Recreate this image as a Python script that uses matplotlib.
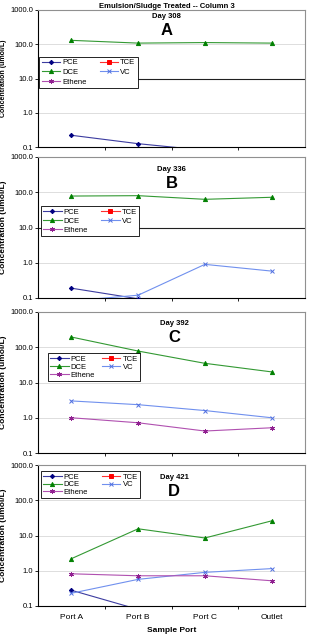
import matplotlib
matplotlib.use("Agg")
import matplotlib.pyplot as plt
import numpy as np

plt.rcParams['font.family'] = ['Liberation Sans', 'DejaVu Sans']

ports = ['Port A', 'Port B', 'Port C', 'Outlet']
nan = np.nan

# concentrations (umol/L) per day, order: PCE, TCE, DCE, VC, Ethene
days = ['Day 308', 'Day 336', 'Day 392', 'Day 421']
letters = ['A', 'B', 'C', 'D']

pce = [[0.22, 0.125, 0.08, nan],
       [0.19, 0.095, nan, nan],
       [nan, nan, nan, nan],
       [0.28, 0.08, nan, nan]]
tce = [[nan] * 4, [nan] * 4, [nan] * 4, [nan] * 4]
dce = [[130, 108, 112, 108],
       [78, 80, 63, 72],
       [195, 78, 35, 20],
       [2.2, 15.5, 8.5, 26]]
vc = [[nan, nan, nan, nan],
      [0.083, 0.12, 0.9, 0.58],
      [3.0, 2.35, 1.6, 1.0],
      [0.23, 0.57, 0.9, 1.15]]
ethene = [[nan, nan, nan, nan],
          [nan, nan, nan, nan],
          [1.0, 0.72, 0.42, 0.52],
          [0.82, 0.72, 0.72, 0.52]]

styles = [
    ('PCE', pce, '#3c3ca0', '#000080', 'D', 2.2),
    ('TCE', tce, '#ff3030', '#ff0000', 's', 2.6),
    ('DCE', dce, '#339933', '#008000', '^', 3.0),
    ('VC', vc, '#7090ee', '#5070e0', 'x', 3.0),
    ('Ethene', ethene, '#b050b0', '#902090', (6, 2, 0), 3.5),
]

W, H = 310, 637
fig = plt.figure(figsize=(W / 100, H / 100), dpi=100)

# pixel boxes (top, bottom) of each panel
boxes = [(10, 147), (157, 298), (312, 453), (465, 606)]
left, right = 38, 305
leg_pos = [(0.005, 0.66), (0.011, 0.65), (0.037, 0.71), (0.011, 0.955)]
leg_rowsp = [0.32, 0.2, 0.1, 0.0]
leg_colsp = [1.7, 1.7, 0.9, 1.8]
label_y = [(0.955, 0.85), (0.91, 0.81), (0.92, 0.82), (0.91, 0.81)]
label_x = [0.48, 0.50, 0.51, 0.51]

x = np.arange(len(ports))
for i in range(4):
    top, bot = boxes[i]
    ax = fig.add_axes([left / W, (H - bot) / H, (right - left) / W, (bot - top) / H])
    ax.set_yscale('log')
    ax.set_ylim(0.1, 1000)
    ax.set_xlim(-0.5, 3.5)

    for lv in [1, 10, 100]:
        if lv == 10 and i < 2:
            ax.axhline(lv, color='#202020', lw=0.8, zorder=1)
        else:
            ax.axhline(lv, color='#d8d8d8', lw=0.6, zorder=1)

    handles = {}
    for name, data, lc, mc, mk, ms in styles:
        h, = ax.plot(x, data[i], color=lc, lw=0.8, marker=mk, ms=ms,
                     mfc=mc, mec=mc, mew=0.7, label=name, zorder=3)
        handles[name] = h

    ax.set_yticks([0.1, 1, 10, 100, 1000])
    ax.set_yticklabels(['0.1', '1.0', '10.0', '100.0', '1000.0'])
    ax.minorticks_off()
    ax.tick_params(axis='y', labelsize=5.5, length=2, width=0.6, pad=1.5)
    ax.set_xticks([0.5, 1.5, 2.5], minor=True)
    ax.set_xticks(x)
    ax.tick_params(axis='x', which='major', length=0, labelsize=6, pad=6)
    ax.tick_params(axis='x', which='minor', length=2.5, width=0.6)
    if i == 3:
        ax.set_xticklabels(ports)
        ax.set_xlabel('Sample Port', fontsize=6, fontweight='bold', labelpad=4)
    else:
        ax.set_xticklabels([])

    for s in ['top', 'right']:
        ax.spines[s].set_color('#909090')
        ax.spines[s].set_linewidth(0.8)
    for s in ['left', 'bottom']:
        ax.spines[s].set_color('black')
        ax.spines[s].set_linewidth(0.8)

    ax.set_ylabel('Concentration (umol/L)', fontsize=5 if i == 0 else 6,
                  fontweight='bold', labelpad=2.5)

    ax.text(label_x[i], label_y[i][0], days[i], transform=ax.transAxes,
            ha='center', va='center', fontsize=5.5, fontweight='bold')
    ax.text(label_x[i], label_y[i][1], letters[i], transform=ax.transAxes,
            ha='center', va='center', fontsize=12, fontweight='bold')

    order = ['PCE', 'DCE', 'Ethene', 'TCE', 'VC']
    leg = ax.legend([handles[n] for n in order], order, ncol=2,
                    loc='upper left', bbox_to_anchor=leg_pos[i],
                    fontsize=5.5, frameon=True, fancybox=False,
                    edgecolor='black', framealpha=1, borderpad=0.3,
                    labelspacing=leg_rowsp[i], handlelength=2.4,
                    handletextpad=0.3, columnspacing=leg_colsp[i],
                    borderaxespad=0)
    leg.get_frame().set_linewidth(0.6)

fig.text(167 / W, 1 - 6 / H, 'Emulsion/Sludge Treated -- Column 3',
         ha='center', va='center', fontsize=5.5, fontweight='bold')

fig.savefig('out.png', dpi=100)
